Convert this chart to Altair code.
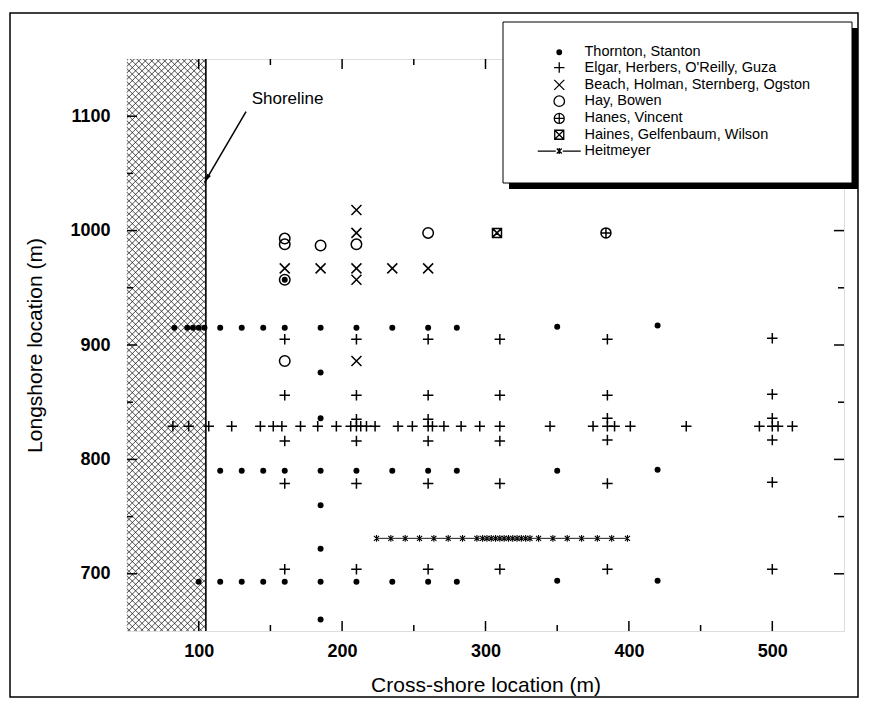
import math
import altair as alt
import pandas as pd

# ---------------- data ----------------
S_TS = "Thornton, Stanton"
S_EH = "Elgar, Herbers, O'Reilly, Guza"
S_BH = "Beach, Holman, Sternberg, Ogston"
S_HB = "Hay, Bowen"
S_HV = "Hanes, Vincent"
S_HG = "Haines, Gelfenbaum, Wilson"
S_HM = "Heitmeyer"
SERIES = [S_TS, S_EH, S_BH, S_HB, S_HV, S_HG, S_HM]

# Thornton, Stanton (dots)
ts_x = [83, 92, 96, 100, 104, 115, 130, 145, 160, 185, 210, 235, 260, 280, 350, 420,
        115, 130, 145, 160, 185, 210, 235, 260, 280, 350, 420,
        100, 115, 130, 145, 160, 185, 210, 235, 260, 280, 350, 420,
        185, 185, 185, 185, 185, 160]
ts_y = [915, 915, 915, 915, 915, 915, 915, 915, 915, 915, 915, 915, 915, 915, 916, 917,
        790, 790, 790, 790, 790, 790, 790, 790, 790, 790, 791,
        693, 693, 693, 693, 693, 693, 693, 693, 693, 693, 694, 694,
        660, 722, 760, 836, 876, 957]

# Elgar, Herbers, O'Reilly, Guza (plus)
eh_x = [160, 210, 260, 310, 385, 500,
        160, 210, 260, 310, 385, 500,
        160, 210, 260, 310, 385, 500,
        160, 210, 260, 310, 385, 500,
        160, 210, 260, 310, 385, 500,
        82, 93, 107, 123, 143, 152, 158, 171, 183, 196, 206, 210, 213, 217, 223, 239, 249,
        260, 263, 271, 283, 296, 310, 345, 375, 385, 390, 401, 440, 491, 500, 504, 514,
        210, 260, 385, 500]
eh_y = [905, 905, 905, 905, 905, 906,
        856, 856, 856, 856, 856, 857,
        816, 816, 816, 816, 817, 817,
        779, 779, 779, 779, 779, 780,
        704, 704, 704, 704, 704, 704,
        829, 829, 829, 829, 829, 829, 829, 829, 829, 829, 829, 829, 829, 829, 829, 829, 829,
        829, 829, 829, 829, 829, 829, 829, 829, 829, 829, 829, 829, 829, 829, 829, 829,
        835, 835, 836, 836]

# Beach, Holman, Sternberg, Ogston (x)
bh_x = [210, 210, 160, 185, 210, 210, 235, 260, 210]
bh_y = [1018, 998, 967, 967, 967, 957, 967, 967, 886]

# Hay, Bowen (open circles)
hb_x = [160, 160, 185, 210, 260, 160, 160]
hb_y = [993, 988, 987, 988, 998, 957, 886]

# Hanes, Vincent
hv_x = [384]
hv_y = [998]

# Haines, Gelfenbaum, Wilson
hg_x = [308]
hg_y = [998]

# Heitmeyer (line with stars)
hm_x = [224, 234, 244, 254, 264, 274, 284, 294, 298, 301, 304, 307, 310, 313, 316,
        319, 322, 325, 328, 331, 337, 347, 357, 367, 378, 388, 399]
hm_y = [731] * len(hm_x)

SHORE_X = 105
X_MAJOR = [100, 200, 300, 400, 500]
X_MINOR = [150, 250, 350, 450]
Y_MAJOR = [700, 800, 900, 1000, 1100]
Y_MINOR = [750, 850, 950, 1050]

# ---------------- layout / style ----------------
W, H = 717, 572
X0, X1 = 50, 550
Y0, Y1 = 650, 1150
kx = W / (X1 - X0)
ky = H / (Y1 - Y0)
FONT = "Liberation Sans"

xs = alt.Scale(domain=[X0, X1], nice=False, zero=False)
ys = alt.Scale(domain=[Y0, Y1], nice=False, zero=False)


def circ(r):
    k = 0.5523 * r
    return (f"M{r},0C{r},{k} {k},{r} 0,{r}C{-k},{r} {-r},{k} {-r},0"
            f"C{-r},{-k} {-k},{-r} 0,{-r}C{k},{-r} {r},{-k} {r},0Z")


PLUS = "M-1.05,0L1.05,0M0,-1.05L0,1.05"
CROSS = "M-1,-1L1,1M-1,1L1,-1"
SMALLPLUS = "M-1,0L1,0M0,-1L0,1"
BOX = "M-0.9,-0.9L0.9,-0.9L0.9,0.9L-0.9,0.9Z"
BOXX = BOX + "M-0.9,-0.9L0.9,0.9M-0.9,0.9L0.9,-0.9"
STAR = "M-1,-1L1,1M-1,1L1,-1M0,-1.3L0,1.3"
HEIT_LEG = ("M-4.3,0L-0.7,0M0.7,0L4.3,0"
            "M-0.5,-0.5L0.5,0.5M-0.5,0.5L0.5,-0.5M0,-0.6L0,0.6")
SHAPES = [circ(0.45), PLUS, CROSS, circ(1.05), circ(1.0) + SMALLPLUS, BOXX, HEIT_LEG]
FILLS = ["black", "transparent", "transparent", "transparent", "transparent",
         "transparent", "transparent"]
STROKES = ["black"] * len(SERIES)

rows = []
for name, xv, yv in [(S_TS, ts_x, ts_y), (S_EH, eh_x, eh_y), (S_BH, bh_x, bh_y),
                     (S_HB, hb_x, hb_y), (S_HV, hv_x, hv_y), (S_HG, hg_x, hg_y)]:
    for a, b in zip(xv, yv):
        rows.append({"series": name, "x": a, "y": b})
points = pd.DataFrame(rows)
heit = pd.DataFrame({"x": hm_x, "y": hm_y})

# hatch of the shoreline region (decoration)
hatch = []
step = 6.5
Wh = (SHORE_X - X0) * kx
c = -Wh
while c < H:
    u0 = max(0.0, -c)
    u1 = min(Wh, H - c)
    if u1 > u0:
        hatch.append((u0, u0 + c, u1, u1 + c))
    c += step
c = step / 2
while c < H + Wh:
    u0 = max(0.0, c - H)
    u1 = min(Wh, c)
    if u1 > u0:
        hatch.append((u0, c - u0, u1, c - u1))
    c += step
hatch_df = pd.DataFrame([{"x": X0 + a / kx, "y": Y0 + b / ky,
                          "x2": X0 + cc / kx, "y2": Y0 + d / ky}
                         for a, b, cc, d in hatch])

one = pd.DataFrame({"a": [0]})

leg = alt.Legend(title=None, orient="none", legendX=425, legendY=-14, padding=0,
                 labelFont=FONT, labelFontSize=14.5, labelColor="black",
                 labelOffset=18, rowPadding=0.3, symbolStrokeColor="black",
                 symbolStrokeWidth=1.3, symbolSize=100, symbolOffset=0,
                 labelLimit=400)

xaxis = alt.Axis(values=X_MAJOR, ticks=False, domain=False, grid=False, format="d",
                 labelFont=FONT, labelFontSize=18, labelFontWeight="bold",
                 labelColor="black", labelPadding=11,
                 title="Cross-shore location (m)", titleFont=FONT, titleFontSize=21,
                 titleFontWeight="normal", titleColor="black", titlePadding=14)
yaxis = alt.Axis(values=Y_MAJOR, ticks=False, domain=False, grid=False, format="d",
                 labelFont=FONT, labelFontSize=18, labelFontWeight="bold",
                 labelColor="black", labelPadding=17,
                 title="Longshore location (m)", titleFont=FONT, titleFontSize=21,
                 titleFontWeight="normal", titleColor="black", titlePadding=24)

# outer figure border
border = alt.Chart(one).mark_rect(fill="transparent", stroke="black", strokeWidth=1.5).encode(
    x=alt.value(-117), x2=alt.value(731), y=alt.value(-46), y2=alt.value(638))

hatch_layer = alt.Chart(hatch_df).mark_rule(color="#111111", strokeWidth=0.75).encode(
    x=alt.X("x:Q", scale=xs, axis=xaxis), y=alt.Y("y:Q", scale=ys, axis=yaxis),
    x2="x2:Q", y2="y2:Q")
shore_edge = alt.Chart(pd.DataFrame({"x": [SHORE_X]})).mark_rule(
    color="black", strokeWidth=1.6).encode(x=alt.X("x:Q", scale=xs), y=alt.value(0),
                                           y2=alt.value(H))


# inward ticks on all four sides
def xticks(vals, length):
    d = pd.DataFrame({"x": vals})
    b = alt.Chart(d).mark_rule(color="black", strokeWidth=1.5).encode(
        x=alt.X("x:Q", scale=xs), y=alt.value(H), y2=alt.value(H - length))
    t = alt.Chart(d).mark_rule(color="black", strokeWidth=1.5).encode(
        x=alt.X("x:Q", scale=xs), y=alt.value(0), y2=alt.value(length))
    return [b, t]


def yticks(vals, length):
    d = pd.DataFrame({"y": vals})
    l = alt.Chart(d).mark_rule(color="black", strokeWidth=1.5).encode(
        y=alt.Y("y:Q", scale=ys), x=alt.value(0), x2=alt.value(length))
    r = alt.Chart(d).mark_rule(color="black", strokeWidth=1.5).encode(
        y=alt.Y("y:Q", scale=ys), x=alt.value(W), x2=alt.value(W - length))
    return [l, r]


ticks = xticks(X_MAJOR, 10) + xticks(X_MINOR, 6) + yticks(Y_MAJOR, 10) + yticks(Y_MINOR, 6)

heit_line = alt.Chart(heit).mark_line(color="black", strokeWidth=0.9).encode(
    x=alt.X("x:Q", scale=xs), y=alt.Y("y:Q", scale=ys))
heit_pts = alt.Chart(heit).mark_point(shape=STAR, size=26, filled=False, color="black",
                                      strokeWidth=1.1, opacity=1).encode(
    x=alt.X("x:Q", scale=xs), y=alt.Y("y:Q", scale=ys))

pts = alt.Chart(points).mark_point(filled=False, color="black",
                                   strokeWidth=1.5, size=100, opacity=1).encode(
    x=alt.X("x:Q", scale=xs),
    y=alt.Y("y:Q", scale=ys),
    shape=alt.Shape("series:N", scale=alt.Scale(domain=SERIES, range=SHAPES), legend=leg),
    fill=alt.Fill("series:N", scale=alt.Scale(domain=SERIES, range=FILLS), legend=leg),
    stroke=alt.Stroke("series:N", scale=alt.Scale(domain=SERIES, range=STROKES), legend=leg),
)

# Shoreline annotation
arr = pd.DataFrame({"x": [133], "y": [1104], "x2": [104], "y2": [1042]})
dx = (arr.x2[0] - arr.x[0]) * kx
dy = -(arr.y2[0] - arr.y[0]) * ky
ang = (math.degrees(math.atan2(dy, dx)) + 90) % 360
arrow = alt.Chart(arr).mark_rule(color="black", strokeWidth=1.5).encode(
    x=alt.X("x:Q", scale=xs), y=alt.Y("y:Q", scale=ys), x2="x2:Q", y2="y2:Q")
head = alt.Chart(arr).mark_point(shape="M0,0L-0.5,2L0.5,2Z", size=80, filled=True,
                                 color="black", opacity=1, angle=ang).encode(
    x=alt.X("x2:Q", scale=xs), y=alt.Y("y2:Q", scale=ys))
label = alt.Chart(pd.DataFrame({"x": [162], "y": [1115], "t": ["Shoreline"]})).mark_text(
    font=FONT, fontSize=17, color="black", align="center", baseline="middle").encode(
    x=alt.X("x:Q", scale=xs), y=alt.Y("y:Q", scale=ys), text="t:N")

# legend box with shadow
shadow = alt.Chart(one).mark_rect(fill="black").encode(
    x=alt.value(382), x2=alt.value(731), y=alt.value(-31), y2=alt.value(130))
box = alt.Chart(one).mark_rect(fill="white", stroke="black", strokeWidth=1).encode(
    x=alt.value(376), x2=alt.value(725), y=alt.value(-37), y2=alt.value(124))

chart = alt.layer(
    hatch_layer, shore_edge, *ticks, border, heit_line, heit_pts, pts,
    arrow, head, label, shadow, box
).properties(
    width=W, height=H,
    autosize=alt.AutoSizeParams(type="none"),
    padding={"left": 119, "top": 51, "right": 16, "bottom": 67},
).configure_view(stroke="black", strokeWidth=2).configure(font=FONT, background="white")

chart.save("out.html", embed_options={"renderer": "svg", "actions": False})
